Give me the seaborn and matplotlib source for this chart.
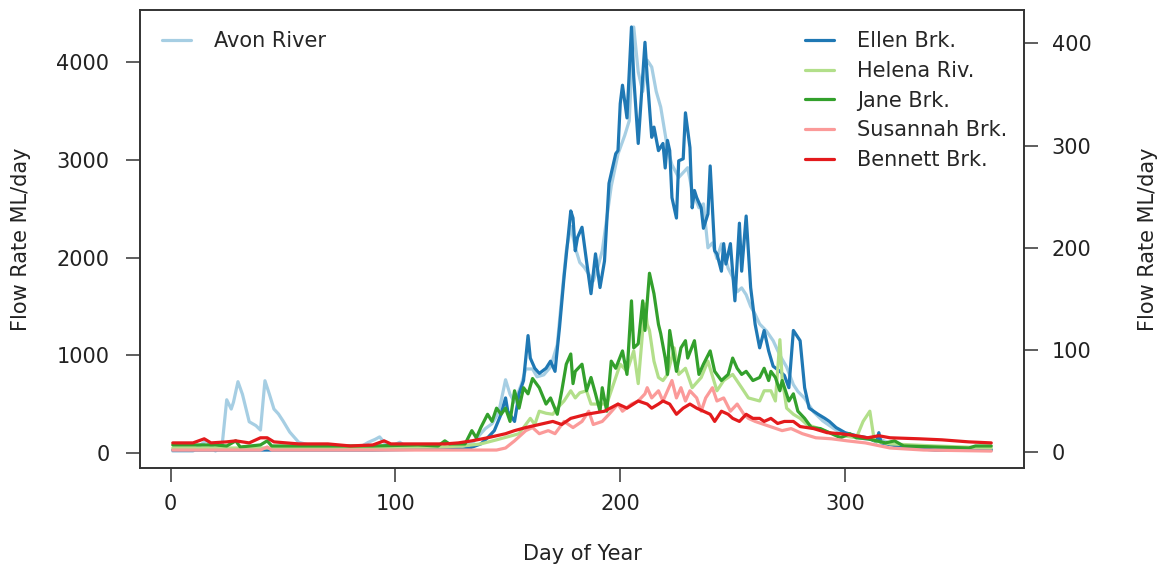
import matplotlib
matplotlib.use("Agg")
import matplotlib.pyplot as plt
from matplotlib.lines import Line2D
import seaborn as sns
import pandas as pd

# ---------------- data ----------------
avon_day = [1, 10, 16, 20, 23, 25, 27, 28, 30, 32, 35, 38, 40, 42, 44, 46, 48, 50, 53, 57, 62, 70, 80, 85, 88, 91, 93, 95, 98,
            102, 105, 115, 125, 130, 135, 140, 143, 146, 149, 151, 153, 156, 158, 161, 163, 166, 169, 172, 174, 176, 178,
            180, 182, 184, 186, 188, 190, 192, 194, 196, 199, 202, 204, 206, 208, 210, 212, 214, 216, 218, 221, 223, 226,
            230, 232, 235, 237, 239, 241, 243, 245, 248, 250, 252, 254, 256, 258, 260, 262, 265, 268, 271, 274, 277, 279,
            282, 286, 290, 295, 300, 305, 310, 315, 320, 330, 340, 365]
avon_flow = [20, 20, 130, 20, 90, 545, 450, 520, 730, 600, 320, 280, 235, 740, 600, 450, 400, 330, 215, 110, 80, 60, 55, 70,
             110, 140, 165, 110, 70, 110, 60, 50, 60, 80, 120, 250, 300, 420, 750, 600, 520, 700, 860, 860, 780, 800, 880,
             1110, 1600, 2070, 2320, 2100, 1950, 1900, 1830, 1760, 1900, 2070, 2400, 2730, 3060, 3250, 3400, 4360, 3900,
             3700, 4020, 3950, 3700, 3540, 3120, 2950, 2820, 2920, 2680, 2510, 2550, 2100, 2150, 1990, 2140, 1890, 1800,
             1650, 1690, 1620, 1500, 1420, 1320, 1250, 1150, 1000, 880, 700, 630, 560, 420, 330, 250, 185, 160, 140, 145,
             100, 70, 60, 40]

ellen_day = [1, 30, 60, 90, 120, 130, 133, 138, 141, 144, 147, 149, 150, 153, 155, 157, 159, 160, 162, 164, 167, 169, 171,
             173, 175, 178, 179, 180, 181, 183, 185, 187, 189, 191, 193, 195, 198, 199, 200, 201, 203, 205, 206, 208, 211,
             212, 214, 215, 217, 219, 220, 221, 222, 223, 225, 226, 228, 229, 231, 232, 233, 234, 236, 237, 239, 240, 242,
             243, 245, 246, 247, 249, 251, 253, 254, 256, 258, 260, 262, 264, 266, 268, 271, 273, 275, 277, 280, 282, 284,
             286, 288, 291, 293, 296, 300, 305, 310, 314, 315, 316, 323, 329, 340, 365]
ellen_flow = [2, 2, 2, 2, 3, 3, 4, 8, 14, 21, 37, 53, 40, 30, 57, 70, 114, 92, 82, 77, 82, 89, 79, 122, 171, 236, 229, 197,
              210, 220, 187, 155, 194, 161, 187, 263, 292, 295, 341, 359, 327, 416, 367, 302, 401, 367, 308, 318, 295, 302,
              278, 305, 295, 249, 229, 285, 287, 332, 298, 239, 256, 249, 239, 219, 233, 280, 197, 194, 177, 204, 184, 204,
              148, 224, 177, 231, 161, 125, 102, 119, 99, 84, 79, 75, 63, 119, 109, 63, 43, 40, 37, 33, 30, 24, 19, 16, 14,
              10, 19, 9, 6, 4, 2, 2]

helena_day = [1, 60, 120, 130, 138, 145, 150, 155, 160, 162, 164, 167, 170, 172, 175, 178, 180, 182, 185, 187, 190, 192,
              194, 196, 198, 200, 203, 206, 208, 211, 212, 213, 215, 217, 219, 221, 224, 226, 229, 232, 236, 239, 243, 246,
              250, 254, 257, 262, 264, 267, 269, 271, 272, 274, 277, 280, 283, 287, 293, 299, 305, 308, 311, 313, 320, 340,
              365]
helena_flow = [4, 4, 5, 6, 8, 12, 15, 18, 33, 27, 40, 38, 37, 43, 50, 60, 53, 58, 60, 47, 47, 47, 47, 60, 73, 86, 79, 99,
               67, 145, 125, 119, 89, 73, 70, 76, 102, 76, 82, 63, 73, 89, 60, 70, 76, 63, 53, 50, 60, 60, 50, 110, 72, 43,
               37, 33, 27, 24, 19, 16, 14, 30, 40, 11, 8, 6, 4]

jane_day = [1, 15, 20, 25, 29, 31, 40, 43, 45, 60, 90, 110, 119, 122, 124, 131, 134, 136, 138, 141, 143, 145, 147, 149,
            151, 153, 155, 157, 159, 161, 164, 167, 169, 172, 174, 176, 178, 179, 180, 183, 185, 187, 189, 191, 192, 194,
            196, 198, 201, 203, 205, 206, 208, 210, 211, 213, 215, 217, 218, 220, 221, 222, 224, 225, 227, 229, 230, 233,
            235, 237, 240, 242, 245, 248, 250, 252, 254, 256, 259, 262, 264, 266, 267, 269, 271, 272, 275, 277, 279, 282,
            285, 289, 294, 298, 302, 305, 310, 314, 318, 322, 326, 340, 355, 358, 365]
jane_flow = [7, 7, 7, 6, 11, 5, 7, 11, 6, 6, 6, 7, 6, 11, 8, 8, 21, 14, 24, 37, 30, 43, 37, 43, 30, 60, 43, 63, 57, 72, 63,
             47, 53, 37, 60, 86, 96, 67, 79, 86, 60, 73, 57, 40, 63, 40, 89, 82, 99, 76, 148, 102, 106, 148, 119, 175, 155,
             125, 116, 92, 76, 119, 92, 79, 102, 109, 92, 109, 76, 86, 99, 79, 70, 76, 92, 82, 76, 79, 70, 73, 82, 70, 79,
             73, 60, 70, 50, 57, 40, 33, 24, 23, 18, 14, 18, 14, 13, 11, 9, 11, 6, 5, 4, 6, 6]

susannah_day = [1, 40, 43, 45, 100, 145, 149, 153, 158, 161, 164, 168, 171, 175, 179, 183, 186, 188, 192, 195, 199, 201,
                205, 208, 211, 212, 214, 217, 219, 221, 223, 225, 227, 229, 231, 234, 236, 238, 241, 243, 246, 249, 252,
                255, 257, 260, 264, 268, 272, 276, 281, 287, 294, 301, 309, 320, 335, 365]
susannah_flow = [2, 2, 5, 2, 2, 2, 4, 11, 21, 24, 18, 21, 18, 30, 24, 30, 40, 27, 30, 37, 47, 40, 47, 50, 57, 63, 53, 60,
                 50, 60, 70, 53, 63, 50, 60, 53, 40, 53, 63, 50, 53, 40, 47, 37, 33, 30, 27, 24, 21, 23, 18, 14, 13, 11,
                 9, 4, 2, 1]

bennett_day = [1, 10, 15, 18, 25, 29, 35, 40, 43, 46, 57, 70, 80, 90, 95, 98, 110, 122, 128, 134, 141, 149, 153, 158, 164,
               170, 174, 178, 185, 193, 199, 203, 208, 212, 214, 217, 219, 222, 225, 228, 231, 234, 237, 240, 242, 245,
               248, 250, 253, 256, 259, 262, 264, 267, 270, 273, 277, 280, 286, 292, 298, 305, 310, 315, 320, 333, 343,
               355, 365]
bennett_flow = [9, 9, 13, 9, 10, 11, 9, 14, 14, 10, 8, 8, 6, 7, 11, 8, 8, 8, 9, 11, 14, 18, 21, 24, 27, 30, 27, 33, 37, 40,
                47, 43, 50, 47, 43, 47, 50, 47, 37, 43, 47, 43, 40, 37, 30, 40, 37, 33, 30, 37, 33, 33, 30, 33, 28, 30, 30,
                25, 23, 19, 18, 16, 14, 16, 14, 13, 12, 10, 9]

left_series = "Avon River"
right_series = ["Ellen Brk.", "Helena Riv.", "Jane Brk.", "Susannah Brk.", "Bennett Brk."]
colors = {"Avon River": "#a6cee3", "Ellen Brk.": "#1f78b4", "Helena Riv.": "#b2df8a",
          "Jane Brk.": "#33a02c", "Susannah Brk.": "#fb9a99", "Bennett Brk.": "#e31a1c"}
x_ticks = [0, 100, 200, 300]
left_ticks = [0, 1000, 2000, 3000, 4000]
right_ticks = [0, 100, 200, 300, 400]
x_label = "Day of Year"
y_label = "Flow Rate ML/day"

# ---------------- frames ----------------
avon_df = pd.DataFrame({"day": avon_day, "flow": avon_flow})
right_df = pd.concat([
    pd.DataFrame({"day": d, "flow": f, "site": s})
    for s, d, f in zip(right_series,
                       [ellen_day, helena_day, jane_day, susannah_day, bennett_day],
                       [ellen_flow, helena_flow, jane_flow, susannah_flow, bennett_flow])
], ignore_index=True)

# ---------------- style ----------------
sns.set_theme(style="white")
plt.rcParams["font.family"] = ["DejaVu Sans"]
plt.rcParams["font.size"] = 15
FS = 15
LW = 2.3

fig = plt.figure(figsize=(11.61, 5.68), dpi=100)
ax = fig.add_axes([0.1206, 0.176, 0.882 - 0.1206, 0.9824 - 0.176])

sns.lineplot(data=avon_df, x="day", y="flow", ax=ax, color=colors[left_series],
             linewidth=LW, estimator=None, legend=False)

ax2 = ax.twinx()
sns.lineplot(data=right_df, x="day", y="flow", hue="site", hue_order=right_series,
             palette=colors, ax=ax2, linewidth=LW, estimator=None, legend=False)

def rlim(vals):
    lo, hi = min(vals), max(vals)
    r = hi - lo
    return lo - 0.04 * r, hi + 0.04 * r

all_days = avon_day + list(right_df["day"])
ax.set_xlim(*rlim(all_days))
ax.set_ylim(*rlim(avon_flow))
ax2.set_ylim(*rlim(list(right_df["flow"])))

ax.set_xticks(x_ticks)
ax.set_yticks(left_ticks)
ax2.set_yticks(right_ticks)

for a in (ax, ax2):
    for sp in a.spines.values():
        sp.set_visible(True)
        sp.set_color("#333333")
        sp.set_linewidth(1.2)
    a.grid(False)

ax.tick_params(axis="x", direction="out", length=10, width=1.1, color="#333333",
               pad=9, labelsize=FS, labelcolor="#222222", bottom=True)
ax.tick_params(axis="y", direction="out", length=10, width=1.1, color="#333333",
               pad=12, labelsize=FS, labelcolor="#222222", left=True)
ax2.tick_params(axis="y", direction="out", length=10, width=1.1, color="#333333",
                pad=10, labelsize=FS, labelcolor="#222222", right=True)

ax.set_xlabel(x_label, fontsize=FS, color="#222222")
ax.set_ylabel(y_label, fontsize=FS, color="#222222")
ax2.set_ylabel(y_label, fontsize=FS, color="#222222")
ax.xaxis.set_label_coords(0.5, -0.166)
ax.yaxis.set_label_coords(-0.1233, 0.5)
ax2.yaxis.set_label_coords(1.129, 0.5)

# legends
h_left = [Line2D([], [], color=colors[left_series], linewidth=LW)]
leg1 = ax2.legend(h_left, [left_series], loc="upper left", bbox_to_anchor=(0.0249, 0.954),
                  frameon=False, fontsize=FS, handlelength=1.4, handletextpad=1.1,
                  borderpad=0, borderaxespad=0)
ax2.add_artist(leg1)
h_right = [Line2D([], [], color=colors[s], linewidth=LW) for s in right_series]
ax2.legend(h_right, right_series, loc="upper left", bbox_to_anchor=(0.752, 0.954),
           frameon=False, fontsize=FS, handlelength=1.4, handletextpad=1.1,
           labelspacing=0.47, borderpad=0, borderaxespad=0)

fig.savefig("out.png", dpi=100)
